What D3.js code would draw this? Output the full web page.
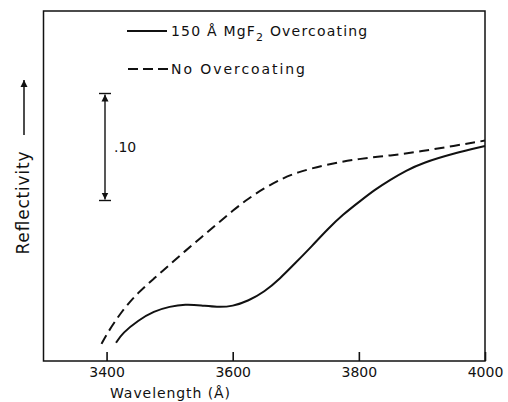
<!DOCTYPE html>
<html>
<head>
<meta charset="utf-8">
<script src="https://cdn.jsdelivr.net/npm/d3@7"></script>
<style>
  html, body { margin: 0; padding: 0; background: #fff; }
  svg { display: block; }
  text { font-family: "DejaVu Sans", "Liberation Sans", sans-serif; fill: #111; }
</style>
</head>
<body>
<script>
// Reflectivity vs wavelength, with and without a 150 Å MgF2 overcoat
const wavelengthTicks = [3400, 3600, 3800, 4000];

const coatedWavelength = [3415, 3425, 3450, 3475, 3500, 3525, 3550, 3575, 3600, 3625, 3650, 3675, 3700,
  3725, 3750, 3775, 3800, 3825, 3850, 3875, 3900, 3950, 4000];
const coatedReflectivity = [0.617, 0.626, 0.638, 0.6465, 0.651, 0.653, 0.652, 0.6503, 0.651, 0.6563, 0.6645, 0.677, 0.692,
  0.707, 0.723, 0.737, 0.7485, 0.760, 0.7695, 0.778, 0.785, 0.794, 0.801];

const bareWavelength = [3392, 3400, 3425, 3450, 3475, 3500, 3525, 3550, 3575, 3600, 3625, 3650, 3675, 3700,
  3750, 3800, 3850, 3900, 3950, 4000];
const bareReflectivity = [0.616, 0.625, 0.6475, 0.664, 0.677, 0.690, 0.703, 0.7155, 0.728, 0.7405, 0.752, 0.7615, 0.7695, 0.776,
  0.784, 0.789, 0.792, 0.796, 0.801, 0.806];

const legendLabels = ["150 Å MgF", "No Overcoating"];
const scaleBarValue = 0.10;
const scaleBarBase = 0.75;

const W = 508, H = 402;
const plot = { left: 43.5, right: 485, top: 11, bottom: 361 };

const svg = d3.select("body").append("svg").attr("width", W).attr("height", H);

const x = d3.scaleLinear().domain([3300, 4000]).range([plot.left, plot.right]);
const y = d3.scaleLinear().domain([0.60, 0.60 + 350 / 1070]).range([plot.bottom, plot.top]);

// frame
svg.append("rect")
  .attr("x", plot.left).attr("y", plot.top)
  .attr("width", plot.right - plot.left).attr("height", plot.bottom - plot.top)
  .attr("fill", "none").attr("stroke", "#111").attr("stroke-width", 1.5);

// bottom axis with inward ticks
const axis = d3.axisBottom(x).tickValues(wavelengthTicks).tickFormat(d3.format("d"))
  .tickSizeInner(-9).tickSizeOuter(0).tickPadding(6);
const gx = svg.append("g").attr("transform", `translate(0,${plot.bottom})`).call(axis);
gx.select(".domain").remove();
gx.selectAll(".tick line").attr("stroke", "#111").attr("stroke-width", 1.6);
gx.selectAll(".tick text").attr("font-size", 14).attr("fill", "#111")
  .style("font-family", "'DejaVu Sans', sans-serif");

svg.append("text")
  .attr("x", 170).attr("y", 398)
  .attr("text-anchor", "middle").attr("font-size", 14)
  .attr("textLength", 120).attr("lengthAdjust", "spacing")
  .text("Wavelength (Å)");

// y label with arrow
svg.append("text")
  .attr("transform", "translate(29,203) rotate(-90)")
  .attr("text-anchor", "middle").attr("font-size", 17)
  .attr("textLength", 103).attr("lengthAdjust", "spacing")
  .text("Reflectivity");

const defs = svg.append("defs");
defs.append("marker")
  .attr("id", "head").attr("viewBox", "0 0 10 10")
  .attr("refX", 10).attr("refY", 5)
  .attr("markerWidth", 7).attr("markerHeight", 11)
  .attr("markerUnits", "userSpaceOnUse")
  .attr("orient", "auto")
  .append("path").attr("d", "M0,0 L10,5 L0,10 Z").attr("fill", "#111");

svg.append("line")
  .attr("x1", 24).attr("y1", 135).attr("x2", 24).attr("y2", 80)
  .attr("stroke", "#111").attr("stroke-width", 1.5)
  .attr("marker-end", "url(#head)");

// scale bar: 0.10 in reflectivity
const sbX = 105;
const sbTop = y(scaleBarBase + scaleBarValue), sbBot = y(scaleBarBase);
svg.append("line")
  .attr("x1", sbX).attr("x2", sbX).attr("y1", (sbTop + sbBot) / 2).attr("y2", sbTop + 1)
  .attr("stroke", "#111").attr("stroke-width", 1.4).attr("marker-end", "url(#head)");
svg.append("line")
  .attr("x1", sbX).attr("x2", sbX).attr("y1", (sbTop + sbBot) / 2).attr("y2", sbBot - 1)
  .attr("stroke", "#111").attr("stroke-width", 1.4).attr("marker-end", "url(#head)");
[sbTop, sbBot].forEach(v => {
  svg.append("line").attr("x1", sbX - 6).attr("x2", sbX + 6).attr("y1", v).attr("y2", v)
    .attr("stroke", "#111").attr("stroke-width", 1.4);
});
svg.append("text")
  .attr("x", 114).attr("y", (sbTop + sbBot) / 2 + 5)
  .attr("font-size", 14).text(".10");

// curves (B-spline through the sampled points for a smooth trace)
const line = d3.line().x(d => x(d[0])).y(d => y(d[1])).curve(d3.curveBasis);
const coated = coatedWavelength.map((w, i) => [w, coatedReflectivity[i]]);
const bare = bareWavelength.map((w, i) => [w, bareReflectivity[i]]);

svg.append("path").datum(bare).attr("d", line)
  .attr("fill", "none").attr("stroke", "#111").attr("stroke-width", 2)
  .attr("stroke-dasharray", "10,5.5");
svg.append("path").datum(coated).attr("d", line)
  .attr("fill", "none").attr("stroke", "#111").attr("stroke-width", 2);

// legend
svg.append("line").attr("x1", 127).attr("x2", 167).attr("y1", 31).attr("y2", 31)
  .attr("stroke", "#111").attr("stroke-width", 1.8);
svg.append("line").attr("x1", 128).attr("x2", 168).attr("y1", 69).attr("y2", 69)
  .attr("stroke", "#111").attr("stroke-width", 1.8).attr("stroke-dasharray", "10,5");

const t1 = svg.append("text").attr("x", 171).attr("y", 35.5).attr("font-size", 14)
  .attr("letter-spacing", 1.2);
t1.append("tspan").text(legendLabels[0]);
t1.append("tspan").attr("dy", 5).attr("font-size", 11).text("2");
t1.append("tspan").attr("dy", -5).text(" Overcoating");

svg.append("text").attr("x", 171).attr("y", 73.5).attr("font-size", 14)
  .attr("textLength", 134).attr("lengthAdjust", "spacing")
  .text(legendLabels[1]);
</script>
</body>
</html>
